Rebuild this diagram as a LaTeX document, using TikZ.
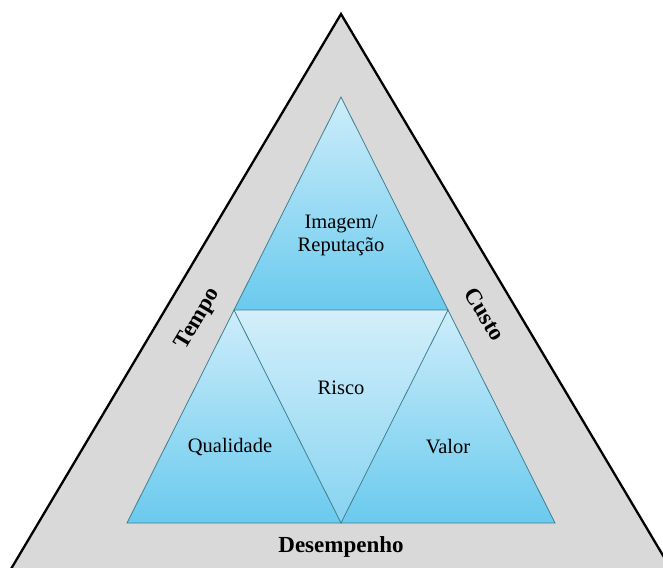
\documentclass[tikz,border=0pt]{standalone}
\usepackage{fontspec}
\setmainfont{Liberation Serif}
\definecolor{bandgray}{HTML}{D9D9D9}
\definecolor{bluetop}{HTML}{CDEDFA}
\definecolor{bluebot}{HTML}{6ACAEE}
\definecolor{invtop}{HTML}{D3EFFA}
\definecolor{invbot}{HTML}{86D3F1}
\definecolor{edgeteal}{HTML}{3E7F92}
\tikzset{
  outerline/.style={draw=black, line width=2.3pt, fill=bandgray, line join=miter},
  innerline/.style={draw=edgeteal, line width=0.8pt, line join=miter},
  upshade/.style={top color=bluetop, bottom color=bluebot},
  invshade/.style={top color=invtop, bottom color=invbot},
  lbl/.style={font=\fontsize{20.5}{23}\selectfont, text=black, align=center},
  sidelbl/.style={font=\fontsize{23}{26}\selectfont\bfseries, text=black}
}
\begin{document}
\begin{tikzpicture}[x=1pt,y=-1pt]
\useasboundingbox (0,0) rectangle (663,567);
\clip (0,0) rectangle (663,567);
\fill[white] (0,0) rectangle (663,567);
% outer triangle
\coordinate (OT) at (341,14);
\coordinate (OL) at (-36,648);
\coordinate (OR) at (718,648);
\draw[outerline] (OT) -- (OL) -- (OR) -- cycle;
% inner vertices
\coordinate (A) at (341,97);
\coordinate (L) at (234,310);
\coordinate (R) at (448,310);
\coordinate (BL) at (127,523);
\coordinate (BM) at (341,523);
\coordinate (BR) at (555,523);
% shaded triangles
\shade[upshade] (A) -- (L) -- (R) -- cycle;
\shade[upshade] (L) -- (BL) -- (BM) -- cycle;
\shade[upshade] (R) -- (BM) -- (BR) -- cycle;
\shade[invshade] (L) -- (R) -- (BM) -- cycle;
% edges
\draw[innerline] (A) -- (L) -- (BL) -- (BR) -- (R) -- cycle;
\draw[innerline] (L) -- (R) -- (BM) -- cycle;
% labels
\node[lbl] (img) at (341,235) {Imagem/\\Reputação};
\node[lbl] (risco) at (341,388) {Risco};
\node[lbl] (qual) at (230,447) {Qualidade};
\node[lbl] (valor) at (448,447) {Valor};
\node[sidelbl, rotate=59.2] (tempo) at (198,319) {Tempo};
\node[sidelbl, rotate=-59.2] (custo) at (485,314) {Custo};
\node[sidelbl] (desemp) at (341,547) {Desempenho};
\end{tikzpicture}
\end{document}
